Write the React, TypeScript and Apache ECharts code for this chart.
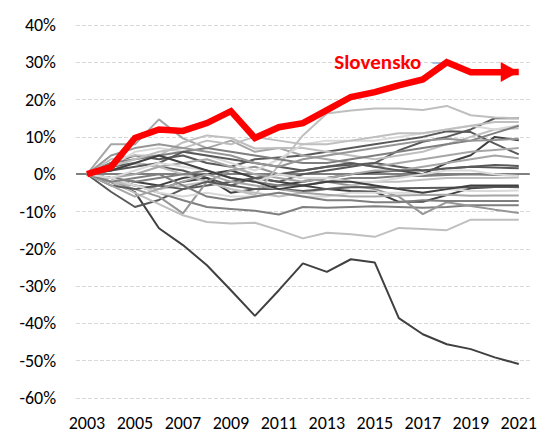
import React, { useEffect, useRef } from "react";
import * as echarts from "echarts";

const years = [2003, 2004, 2005, 2006, 2007, 2008, 2009, 2010, 2011, 2012, 2013, 2014, 2015, 2016, 2017, 2018, 2019, 2020, 2021];
const xTickLabels = [2003, 2005, 2007, 2009, 2011, 2013, 2015, 2017, 2019, 2021];

const slovensko = [0, 1.9, 9.7, 12.0, 11.6, 13.7, 16.9, 9.7, 12.6, 13.7, 17.2, 20.7, 22.0, 23.8, 25.4, 30.0, 27.3, 27.3, 27.4];
const slovenskoLabel = "Slovensko";

// other countries (gray lines)
const greece = [0, -2.1, -4.8, -14.5, -19.0, -24.4, -31.1, -38.0, -31.1, -23.9, -26.2, -22.8, -23.7, -38.6, -42.9, -45.6, -46.9, -49.1, -50.9];
const c02 = [0, -1, -2, -3, -1, 0, 1, -1, -2, -3, -4, -4.5, -4.7, -7.4, -7.4, -5.6, -3.8, -3.4, -3.4];
const c03 = [0, 2, 3, 2, 1, -1, -3, -1, -2, 0, 1, 2, 3, 6.4, 8.7, 10, 12, 15, 15];
const c04 = [0, 3, 5, 4, 5, 3, 2, 4, 4.5, 5, 6, 7, 8, 9, 10, 11.5, 11.3, 8.2, 5.3];
const c05 = [0, -1, -3, -4, -2, -1, -5, -4, -3, -2, -1, 0, 0.5, 1, 0, 3, 5.1, 10, 9.1];
const c06 = [0, -4.7, -8.8, -6.9, -4, -3, -2, -1, 0, 1, 2, 2.5, 3, 2, 1, 1.5, 2, 2.5, 2.2];
const c07 = [0, -2, -3, -5, -7, -8.8, -9.3, -9.8, -10.8, -8.8, -9, -8.8, -8.6, -8.8, -9, -8.8, -8.3, -8.3, -8.3];
const c08 = [0, -2, -4, -6, -10.5, -2, 1, 2, 0, -1, -2, -3, -4, -6, -10.7, -7.5, -8.5, -9.5, -10.4];
const c09 = [0, -2, -5, -8, -11, -12.8, -13.2, -13, -15, -17.2, -15.7, -16.1, -16.8, -14.4, -14.7, -15, -12.2, -12.2, -12.2];
const c10 = [0, 1, 3, 2, 0, -2, -4, -5.6, 2.4, 10.4, 16.3, 17.1, 17.6, 17.6, 17.2, 18.3, 15.8, 15.2, 15];
const c11 = [0, 8, 8, 14.7, 9.6, 7, 9, 6, 7, 5, 4, 3, 2, 3, 4, 5, 6, 6.5, 7];
const c12 = [0, 4, 5, 5, 8.5, 10.4, 9.7, 6.9, 7, 7, 6, 5, 4, 5, 6, 8, 10, 12, 12.3];
const c13 = [0, 2, 6, 7, 6, 5, 3, 1, 4, 8, 9, 9, 9, 10, 11, 12, 13, 12, 13.1];
const c14 = [0, 3, 4, 5, 6, 7, 6, 5, 4, 3, 3, 4, 5, 6, 7, 8, 9, 11, 13];
const c15 = [0, -1, 0, 2, 3, 4, 2, 0, -1, -2, -1, 0, 1, 1, 2, 3, 4, 5, 4.3];
const c16 = [0, 1, 2, 3, 6, 5, 4, 3, 2, 1, 2, 3, 2, 1, 1, 1.5, 2, 1.8, 1.6];
const c17 = [0, -1, -2, -1, 0, 1, -1, -2, -3, -3, -2, -1, -1, -0.5, -0.5, -0.2, 0, -0.2, -0.2];
const c18 = [0, -2, -3, -4, -3, -2, -4, -5, -6, -5, -4, -3, -2, -2, -1.5, -1, -1, -1, -0.9];
const c19 = [0, -3, -4, -3, -4, -2, -3, -4, -4, -4.5, -4, -3.5, -3.5, -3.8, -3.7, -3.6, -3.5, -3.4, -3.5];
const c20 = [0, -1, -3, -5, -6, -5, -6, -6, -5, -6, -6, -5, -5, -5, -5, -4, -4.5, -4.5, -4.4];
const c21 = [0, -3, -6, -4, -2, 0, -2, -3, -4, -5, -5.5, -6, -6, -5.7, -5.6, -5.5, -5.8, -5.7, -5.7];
const c22 = [0, -2, -1, 0, -3, -6, -7, -6, -5, -6, -7, -7, -7.5, -7.5, -7, -7.2, -7.2, -7.2, -7.2];
const c23 = [0, 2, 4, 6, 7, 9, 8, 10, 9, 8, 8, 9, 10, 11, 11, 12, 13, 14, 14];
const c24 = [0, -1, 1, 3, 2, 1, -1, -2, 0, -1, -1, -2, -2, -1, 0, 1, 1, 0, -0.5];
const c25 = [0, 1, 3, 5, 3, 1, -1, -2, -4, -3, -2, -2, -3, -4, -5, -4, -3, -3, -3];
const c26 = [0, 5, 7, 8, 7, 6, 5, 3, 2, 4, 5, 6, 7, 8, 9, 9.5, 9, 9.2, 9.5];

const grayLines = [greece, c02, c03, c04, c05, c06, c07, c08, c09, c10, c11, c12, c13, c14, c15, c16, c17, c18, c19, c20, c21, c22, c23, c24, c25, c26];
const grayShades = ["#404040", "#404040", "#595959", "#595959", "#404040", "#595959", "#7f7f7f", "#969696", "#bfbfbf", "#bfbfbf", "#a6a6a6", "#bfbfbf", "#d9d9d9", "#7f7f7f", "#a6a6a6", "#595959", "#7f7f7f", "#bfbfbf", "#595959", "#d9d9d9", "#a6a6a6", "#7f7f7f", "#bfbfbf", "#d9d9d9", "#404040", "#969696"];

const FONT = "Carlito, Lato, 'Noto Sans', sans-serif";

export default function App() {
  const ref = useRef<HTMLDivElement>(null);
  useEffect(() => {
    if (!ref.current) return;
    const chart = echarts.init(ref.current, undefined, { renderer: "svg" });
    const pairs = (arr: number[]) => arr.map((v, i) => [years[i], v]);
    const series: any[] = grayLines.map((arr, idx) => ({
      type: "line",
      data: pairs(arr),
      symbol: "none",
      lineStyle: { color: grayShades[idx], width: 2 },
      z: 2,
      silent: true,
      ...(idx === 0
        ? {
            markLine: {
              silent: true,
              symbol: "none",
              label: { show: false },
              lineStyle: { color: "#7f7f7f", width: 2, type: "solid" },
              data: [{ yAxis: 0 }],
              z: 1,
            },
          }
        : {}),
    }));
    const redData: any[] = pairs(slovensko);
    const last = redData.length - 1;
    redData[last] = {
      value: redData[last],
      symbol: "triangle",
      symbolSize: [20, 18],
      symbolRotate: -90,
      symbolOffset: [-9, 0],
      itemStyle: { color: "#ff0000" },
    };
    series.push({
      type: "line",
      data: redData,
      symbol: "none",
      lineStyle: { color: "#ff0000", width: 6.5, join: "miter" },
      itemStyle: { color: "#ff0000" },
      z: 5,
      silent: true,
      markLine: {
        silent: true,
        symbol: "none",
        label: { show: false },
        lineStyle: { color: "#8eaadb", width: 1.5, type: "solid" },
        data: [[{ coord: [2017.4, slovensko[15]] }, { coord: [2018, slovensko[15]] }]],
      },
      markPoint: {
        silent: true,
        data: [
          {
            coord: [years[15], slovensko[15]],
            symbol: "circle",
            symbolSize: 1,
            itemStyle: { color: "transparent" },
            label: {
              show: true,
              position: "left",
              distance: 25,
              formatter: slovenskoLabel,
              color: "#ff0000",
              fontWeight: "bold",
              fontSize: 21,
              fontFamily: FONT,
            },
          },
        ],
      },
    });
    chart.setOption({
      animation: false,
      grid: { left: 76, right: 10, top: 25, bottom: 38, containLabel: false },
      xAxis: {
        type: "value",
        min: 2003 - 11 / 24,
        max: 2021 + 11 / 24,
        axisLine: { show: false, onZero: false },
        axisTick: { show: false },
        splitLine: { show: false },
        axisLabel: {
          customValues: xTickLabels,
          formatter: (v: number) => String(v),
          color: "#000",
          fontSize: 18,
          fontFamily: FONT,
          margin: 16,
        },
      },
      yAxis: {
        type: "value",
        min: -60,
        max: 40,
        interval: 10,
        axisLine: { show: false },
        axisTick: { show: false },
        splitLine: { show: true, lineStyle: { color: "#d9d9d9", type: "dashed", width: 1 } },
        axisLabel: {
          formatter: (v: number) => `${v}%`,
          color: "#000",
          fontSize: 18,
          fontFamily: FONT,
          margin: 20,
        },
      },
      series,
    });
    return () => chart.dispose();
  }, []);
  return <div ref={ref} style={{ width: 540, height: 436, position: "absolute", left: 0, top: 0 }} />;
}
